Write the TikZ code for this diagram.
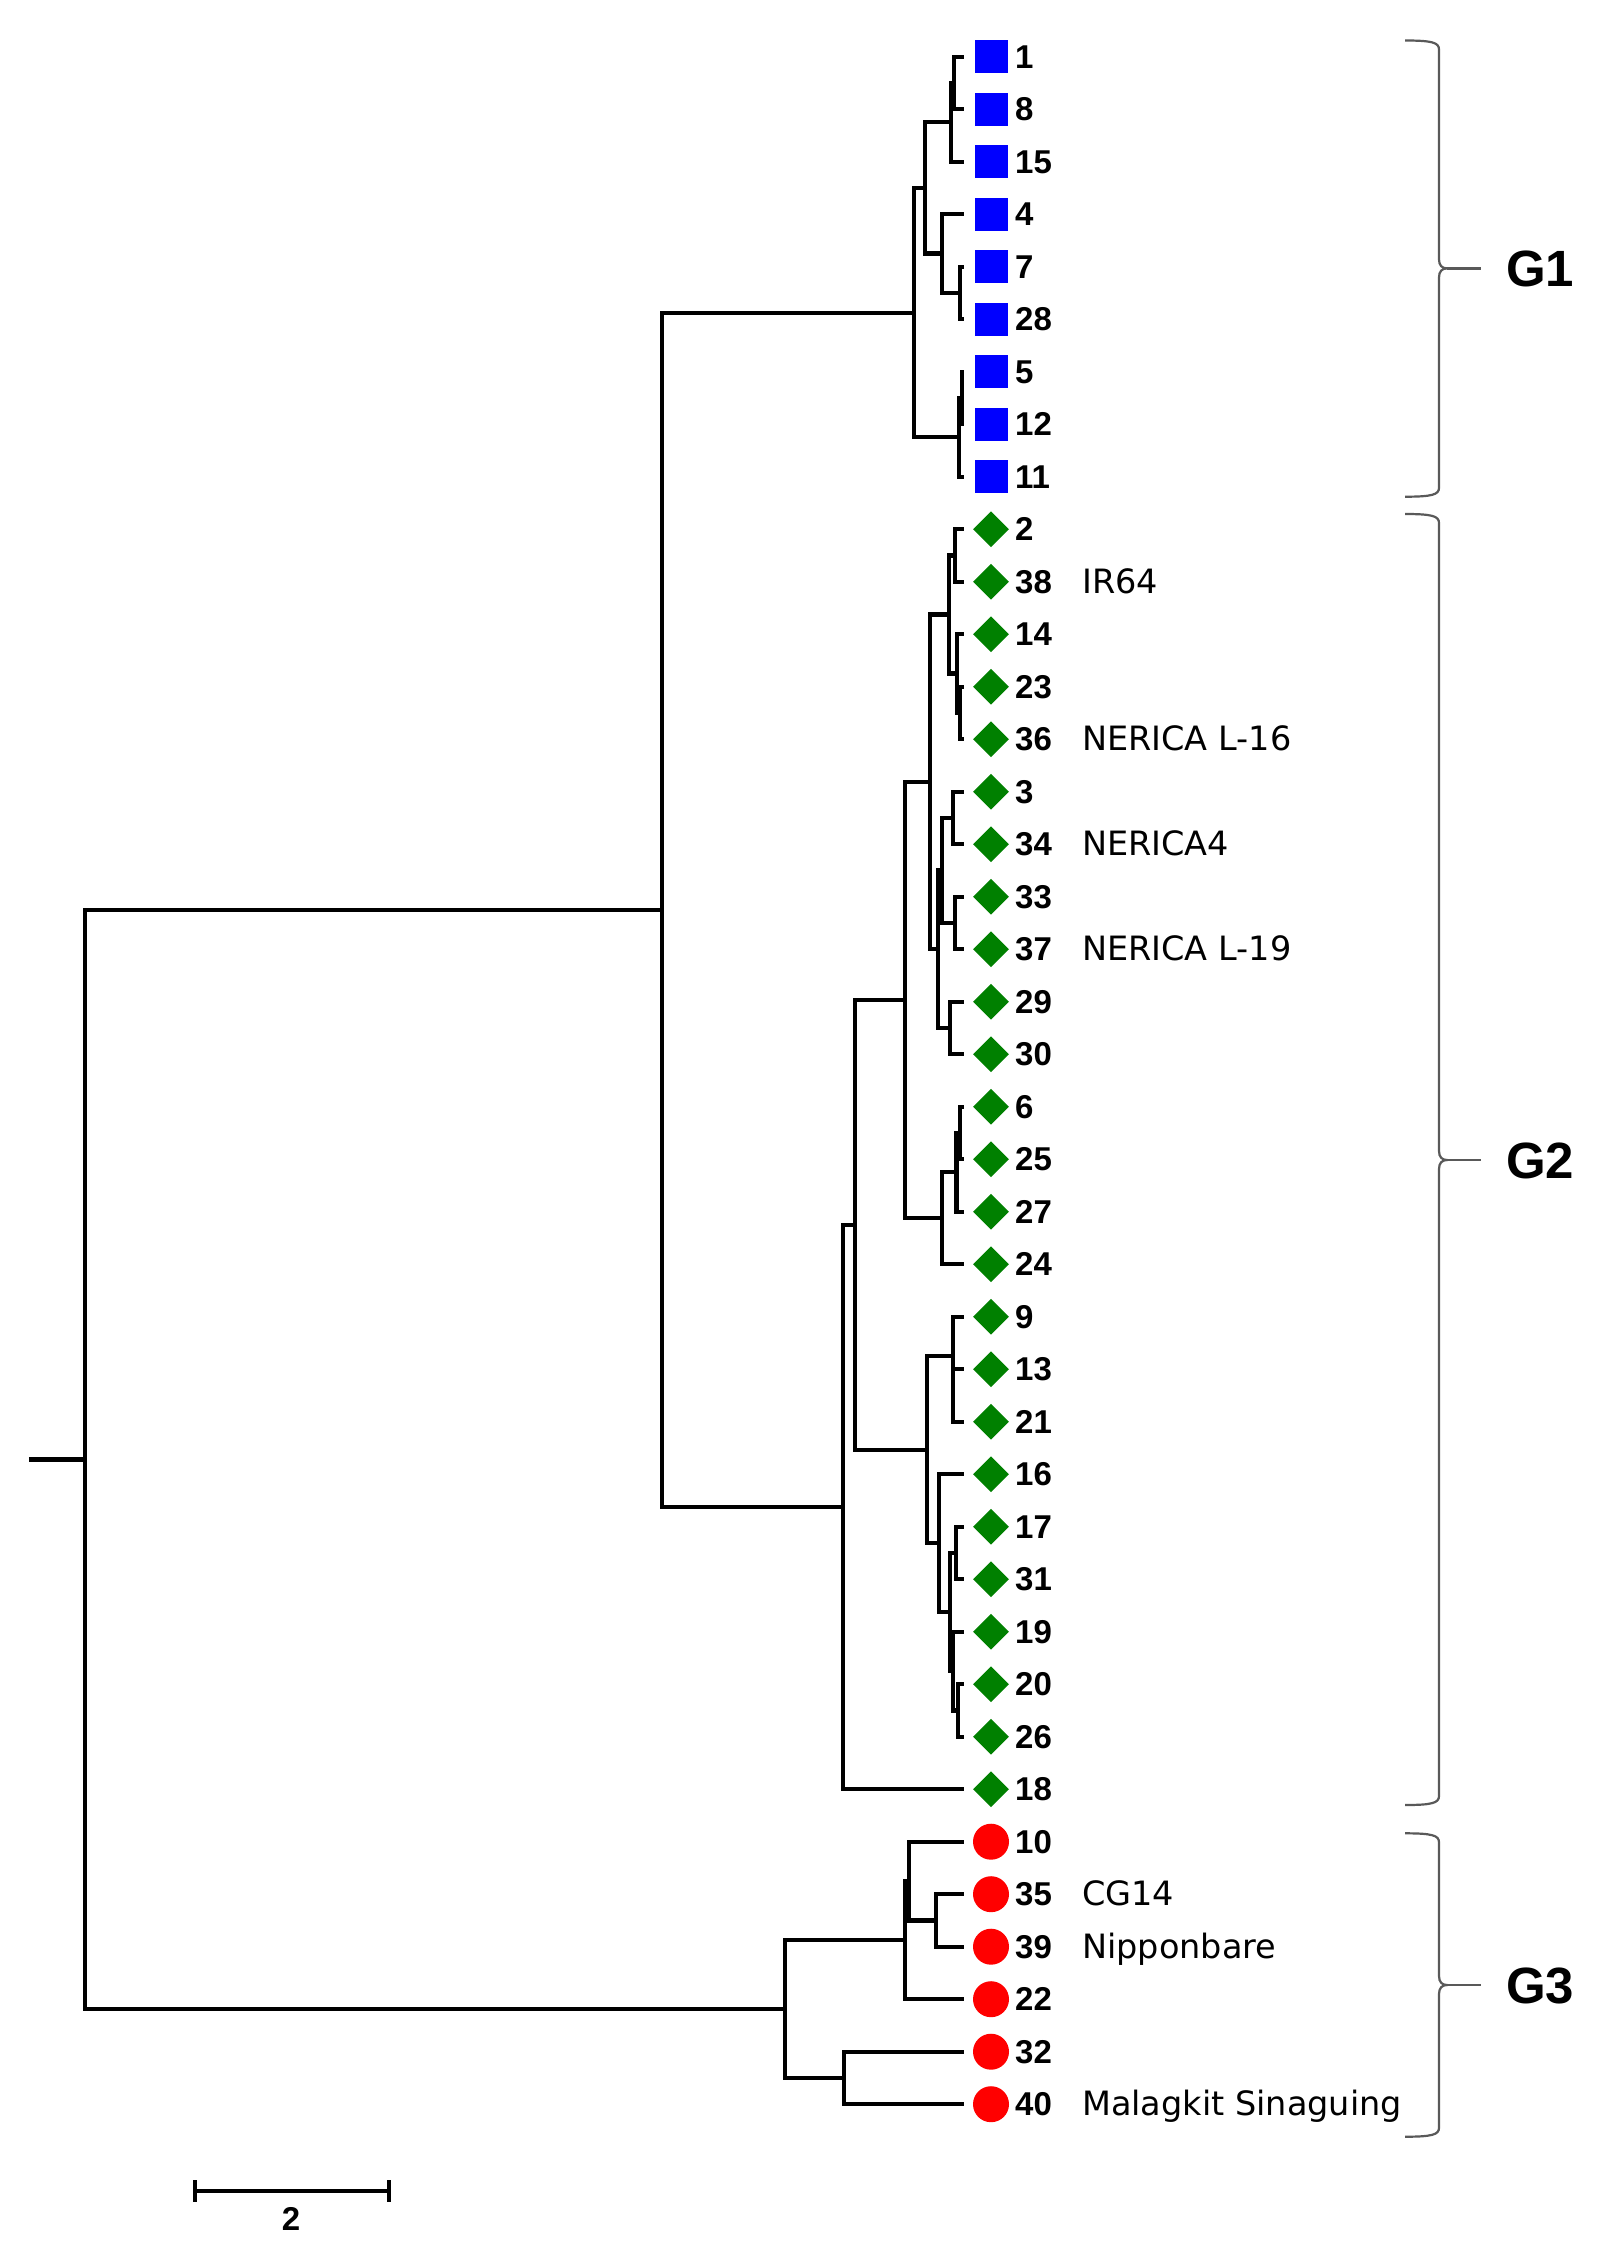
\documentclass[tikz,border=0pt]{standalone}
\usepackage{fontspec}
\setmainfont{Liberation Sans}
\newfontfamily\namefont{DejaVu Sans}
\usetikzlibrary{shapes.geometric}
\definecolor{g1blue}{RGB}{0,0,255}
\definecolor{g2green}{RGB}{0,128,0}
\definecolor{g3red}{RGB}{255,0,0}
\tikzstyle{branch} = [line width=4.2pt, black]
\tikzstyle{bracket} = [line width=2.2pt, black!65]
\tikzstyle{g1leaf} = [rectangle, minimum size=33pt, inner sep=0pt, fill=g1blue]
\tikzstyle{g2leaf} = [diamond, aspect=1, minimum width=36pt, minimum height=36pt, inner sep=0pt, fill=g2green]
\tikzstyle{g3leaf} = [circle, minimum size=36pt, inner sep=0pt, fill=g3red]
\tikzstyle{num} = [anchor=base west, inner sep=0pt, font=\fontsize{33}{36}\selectfont\bfseries]
\tikzstyle{cultivar} = [anchor=base west, inner sep=0pt, font=\namefont\fontsize{33.5}{36}\selectfont]
\tikzstyle{grp} = [anchor=base west, inner sep=0pt, font=\fontsize{51}{56}\selectfont\bfseries]

\begin{document}
\begin{tikzpicture}[x=1pt, y=-1pt]
    \path[fill=white, use as bounding box] (0,0) rectangle (1611,2265);

    % leaves, one row every 52.5
    \foreach \n [count=\k from 0] in {1,8,15,4,7,28,5,12,11} {
        \coordinate (t\n) at (964, {56.7+52.5*\k});
        \node[g1leaf] (m\n) at (991, {56.7+52.5*\k}) {};
        \node[num] (l\n) at (1015, {68.4+52.5*\k}) {\n};
    }
    \foreach \n [count=\k from 9] in {2,38,14,23,36,3,34,33,37,29,30,6,25,27,24,9,13,21,16,17,31,19,20,26,18} {
        \coordinate (t\n) at (964, {56.7+52.5*\k});
        \node[g2leaf] (m\n) at (991, {56.7+52.5*\k}) {};
        \node[num] (l\n) at (1015, {68.4+52.5*\k}) {\n};
    }
    \foreach \n [count=\k from 34] in {10,35,39,22,32,40} {
        \coordinate (t\n) at (964, {56.7+52.5*\k});
        \node[g3leaf] (m\n) at (991, {56.7+52.5*\k}) {};
        \node[num] (l\n) at (1015, {68.4+52.5*\k}) {\n};
    }

    \node[cultivar] (n38) at (1082, 593.2) {IR64};
    \node[cultivar] (n36) at (1082, 750.7) {NERICA L-16};
    \node[cultivar] (n34) at (1082, 855.7) {NERICA4};
    \node[cultivar] (n37) at (1082, 960.7) {NERICA L-19};
    \node[cultivar] (n35) at (1082, 1905.7) {CG14};
    \node[cultivar] (n39) at (1082, 1958.2) {Nipponbare};
    \node[cultivar] (n40) at (1082, 2115.7) {Malagkit Sinaguing};

    % internal nodes of G1
    \coordinate (a1-8) at (954, 82.95);
    \coordinate (a1-15) at (950.7, 122.33);
    \coordinate (a7-28) at (960, 292.95);
    \coordinate (a4-28) at (942.3, 253.58);
    \coordinate (a1-28) at (925.3, 187.95);
    \coordinate (a5-12) at (961.7, 397.95);
    \coordinate (a5-11) at (959.3, 437.33);
    \coordinate (g1) at (914.3, 312.64);
    % internal nodes of G2
    \coordinate (b2-38) at (955, 555.45);
    \coordinate (b23-36) at (960, 712.95);
    \coordinate (b14-36) at (957.3, 673.58);
    \coordinate (b2-36) at (949.3, 614.51);
    \coordinate (b3-34) at (953.3, 817.95);
    \coordinate (b33-37) at (955, 922.95);
    \coordinate (b3-37) at (941.7, 870.45);
    \coordinate (b29-30) at (950, 1027.95);
    \coordinate (b3-30) at (938.3, 949.2);
    \coordinate (b2-30) at (930, 781.86);
    \coordinate (b6-25) at (960, 1132.95);
    \coordinate (b6-27) at (956.5, 1172.33);
    \coordinate (b6-24) at (941.7, 1218.26);
    \coordinate (bA) at (905, 1000.06);
    \coordinate (b13-21) at (952.7, 1395.45);
    \coordinate (b9-21) at (952.7, 1356.08);
    \coordinate (b17-31) at (956, 1552.95);
    \coordinate (b20-26) at (958.3, 1710.45);
    \coordinate (b19-26) at (953, 1671.08);
    \coordinate (b17-26) at (950, 1612.01);
    \coordinate (b16-26) at (939.3, 1543.1);
    \coordinate (bB) at (926.7, 1449.6);
    \coordinate (bAB) at (855.3, 1224.83);
    \coordinate (g2) at (843.3, 1507.0);
    % internal nodes of G3
    \coordinate (c35-39) at (936, 1920.45);
    \coordinate (c10-39) at (909, 1881.08);
    \coordinate (c10-22) at (905, 1940.14);
    \coordinate (c32-40) at (844, 2077.95);
    \coordinate (g3) at (785, 2009.04);
    % top of the tree
    \coordinate (g12) at (661.7, 909.82);
    \coordinate (root) at (85.2, 1459.43);
    \coordinate (base) at (28.9, 1459.43);

    \foreach \p/\c in {a1-8/t1, a1-8/t8, a1-15/a1-8, a1-15/t15, a7-28/t7, a7-28/t28,
        a4-28/t4, a4-28/a7-28, a1-28/a1-15, a1-28/a4-28, a5-12/t5, a5-12/t12,
        a5-11/a5-12, a5-11/t11, g1/a1-28, g1/a5-11,
        b2-38/t2, b2-38/t38, b23-36/t23, b23-36/t36, b14-36/t14, b14-36/b23-36,
        b2-36/b2-38, b2-36/b14-36, b3-34/t3, b3-34/t34, b33-37/t33, b33-37/t37,
        b3-37/b3-34, b3-37/b33-37, b29-30/t29, b29-30/t30, b3-30/b3-37, b3-30/b29-30,
        b2-30/b2-36, b2-30/b3-30, b6-25/t6, b6-25/t25, b6-27/b6-25, b6-27/t27,
        b6-24/b6-27, b6-24/t24, bA/b2-30, bA/b6-24, b13-21/t13, b13-21/t21,
        b9-21/t9, b9-21/b13-21, b17-31/t17, b17-31/t31, b20-26/t20, b20-26/t26,
        b19-26/t19, b19-26/b20-26, b17-26/b17-31, b17-26/b19-26, b16-26/t16,
        b16-26/b17-26, bB/b9-21, bB/b16-26, bAB/bA, bAB/bB, g2/bAB, g2/t18,
        c35-39/t35, c35-39/t39, c10-39/t10, c10-39/c35-39, c10-22/c10-39, c10-22/t22,
        c32-40/t32, c32-40/t40, g3/c10-22, g3/c32-40,
        g12/g1, g12/g2, root/g12, root/g3}
        \draw[branch] (\p) |- (\c);
    \draw[branch] (base) -- (root);

    % group brackets
    \foreach \yt/\ym/\yb/\g in {40.5/268.4/496.7/G1, 514/1160/1805/G2, 1833.3/1985/2136.7/G3} {
        \draw[bracket] (1405,\yt) .. controls (1432,\yt) and (1439,{\yt+2}) .. (1439,{\yt+9})
            -- (1439,{\ym-9}) .. controls (1439,{\ym-3}) and (1442,\ym) .. (1447,\ym)
            .. controls (1442,\ym) and (1439,{\ym+3}) .. (1439,{\ym+9})
            -- (1439,{\yb-9}) .. controls (1439,{\yb-2}) and (1432,\yb) .. (1405,\yb);
        \coordinate (cusp\g) at (1447,\ym);
        \node[grp] (\g) at (1506,{\ym+18.5}) {\g};
        \draw[bracket] (cusp\g) -- ++(34,0);
    }

    % scale bar
    \coordinate (sbl) at (195,2191);
    \coordinate (sbr) at (389.3,2191);
    \draw[branch] (sbl) -- (sbr);
    \draw[branch] ([yshift=11pt]sbl) -- ([yshift=-11pt]sbl);
    \draw[branch] ([yshift=11pt]sbr) -- ([yshift=-11pt]sbr);
    \node[num, anchor=base] (sblabel) at (291,2230.5) {2};
\end{tikzpicture}
\end{document}
